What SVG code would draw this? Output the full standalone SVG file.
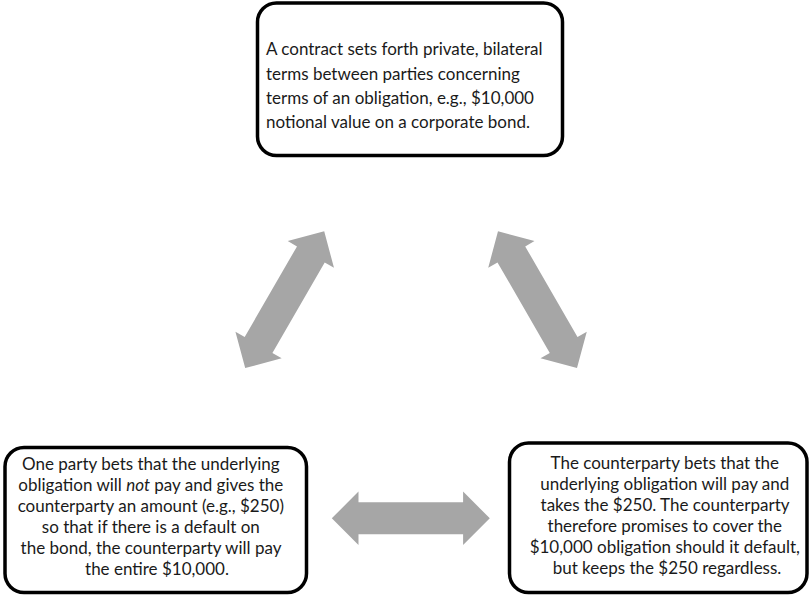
<svg xmlns="http://www.w3.org/2000/svg" width="810" height="595" viewBox="0 0 810 595">
  <style>
    .box { fill: #ffffff; stroke: #000000; stroke-width: 3.5; }
    .txt { font-family: Lato, "Open Sans", "Liberation Sans", sans-serif; font-size: 17px; fill: #1a1a1a; }
    .mid { text-anchor: middle; }
    .arrow { fill: #a6a6a6; }
  </style>
  <defs>
    <!-- double-headed block arrow, centred on the origin, pointing along x -->
    <polygon id="dblArrow" points="-79,0 -52.3,-26.7 -52.3,-16 52.3,-16 52.3,-26.7 79,0 52.3,26.7 52.3,16 -52.3,16 -52.3,26.7"/>
  </defs>

  <rect width="810" height="595" fill="#ffffff"/>

  <g id="connectors">
    <use href="#dblArrow" class="arrow" transform="translate(284.7,299.7) rotate(-60)"/>
    <use href="#dblArrow" class="arrow" transform="translate(537.5,299.7) rotate(60)"/>
    <use href="#dblArrow" class="arrow" transform="translate(410.8,518.3)"/>
  </g>

  <g id="contract">
    <rect class="box" x="257.5" y="3" width="305" height="152.5" rx="19"/>
    <text class="txt" x="266">
      <tspan x="266" y="55">A contract sets forth private, bilateral</tspan>
      <tspan x="266" y="79.5">terms between parties concerning</tspan>
      <tspan x="266" y="104">terms of an obligation, e.g., $10,000</tspan>
      <tspan x="266" y="128">notional value on a corporate bond.</tspan>
    </text>
  </g>

  <g id="buyer">
    <rect class="box" x="5" y="447.5" width="301.5" height="145" rx="19"/>
    <text class="txt mid">
      <tspan x="153" y="470">One party bets that the underlying</tspan>
      <tspan x="153" y="491">obligation will <tspan font-style="italic">not</tspan> pay and gives the</tspan>
      <tspan x="153" y="512">counterparty an amount (e.g., $250)</tspan>
      <tspan x="153" y="533">so that if there is a default on</tspan>
      <tspan x="153" y="554">the bond, the counterparty will pay</tspan>
      <tspan x="157" y="575">the entire $10,000.</tspan>
    </text>
  </g>

  <g id="seller">
    <rect class="box" x="509.5" y="443" width="297.5" height="149.5" rx="19"/>
    <text class="txt mid">
      <tspan x="667" y="468.5">The counterparty bets that the</tspan>
      <tspan x="667" y="489.5">underlying obligation will pay and</tspan>
      <tspan x="667" y="510.5">takes the $250. The counterparty</tspan>
      <tspan x="667" y="531.5">therefore promises to cover the</tspan>
      <tspan x="667" y="552.5">$10,000 obligation should it default,</tspan>
      <tspan x="667" y="573.5">but keeps the $250 regardless.</tspan>
    </text>
  </g>
</svg>
